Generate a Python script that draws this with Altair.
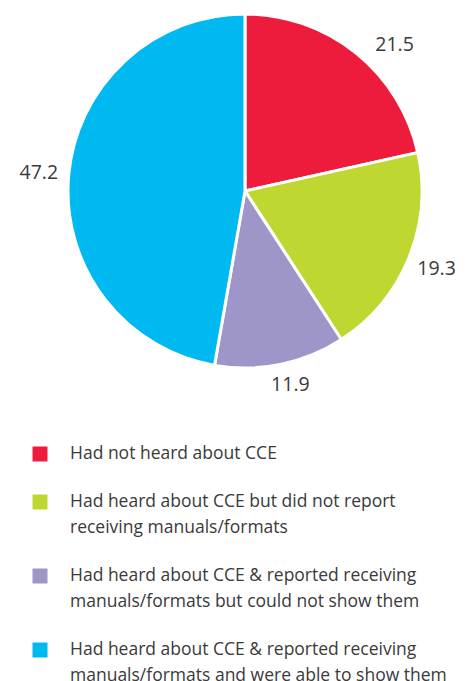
import altair as alt
import pandas as pd

categories = [
    "Had not heard about CCE",
    "Had heard about CCE but did not report\nreceiving manuals/formats",
    "Had heard about CCE & reported receiving\nmanuals/formats but could not show them",
    "Had heard about CCE & reported receiving\nmanuals/formats and were able to show them",
]
values = [21.5, 19.3, 11.9, 47.2]
value_labels = ["21.5", "19.3", "11.9", "47.2"]
colors = ["#ED1C3C", "#BFD730", "#9E96C8", "#00B9F1"]
order = [0, 1, 2, 3]

df = pd.DataFrame({"category": categories, "value": values, "label": value_labels, "order": order})

W, H = 451, 673
FONT = "Open Sans"
TXT = "#3a3a3a"
cx, cy = 237, 181

color = alt.Color("category:N", scale=alt.Scale(domain=categories, range=colors), legend=None)
base = alt.Chart(df)

arc = base.mark_arc(outerRadius=177, stroke="white", strokeWidth=3).encode(
    theta=alt.Theta("value:Q", stack=True),
    order=alt.Order("order:Q"),
    color=color,
    x=alt.value(cx), y=alt.value(cy),
)


def value_label(test, **offsets):
    return base.transform_calculate(t=f"({test}) ? datum.label : ''").mark_text(
        radius=207, font=FONT, fontSize=19.5, color=TXT, **offsets
    ).encode(
        theta=alt.Theta("value:Q", stack=True), order=alt.Order("order:Q"),
        text="t:N", x=alt.value(cx), y=alt.value(cy),
    )


lab_main = value_label("datum.order == 1 || datum.order == 3")
lab_red = value_label("datum.order == 0", dx=20, dy=15)
lab_purple = value_label("datum.order == 2", dx=4, dy=-9)

leg = base.transform_calculate(
    nlines="length(split(datum.category, '\\n'))"
).transform_window(
    cum="sum(nlines)", sort=[alt.SortField("order")]
).transform_calculate(
    ypos="444 + (datum.cum - datum.nlines) * 26 + datum.order * 22"
)
yenc = alt.Y("ypos:Q", scale=alt.Scale(domain=[0, H], range=[0, H]), axis=None)

squares = leg.mark_square(size=225, opacity=1).encode(
    x=alt.value(32), y=yenc, color=color,
)
texts = leg.mark_text(
    align="left", baseline="middle", lineBreak="\n", lineHeight=26,
    font=FONT, fontSize=17.5, color=TXT,
).encode(x=alt.value(62), y=yenc, text="category:N")

chart = alt.layer(arc, lab_main, lab_red, lab_purple, squares, texts).properties(
    width=W, height=H, padding=0
).configure_view(stroke=None)

chart.save("out.html", embed_options={"renderer": "svg", "actions": False})
